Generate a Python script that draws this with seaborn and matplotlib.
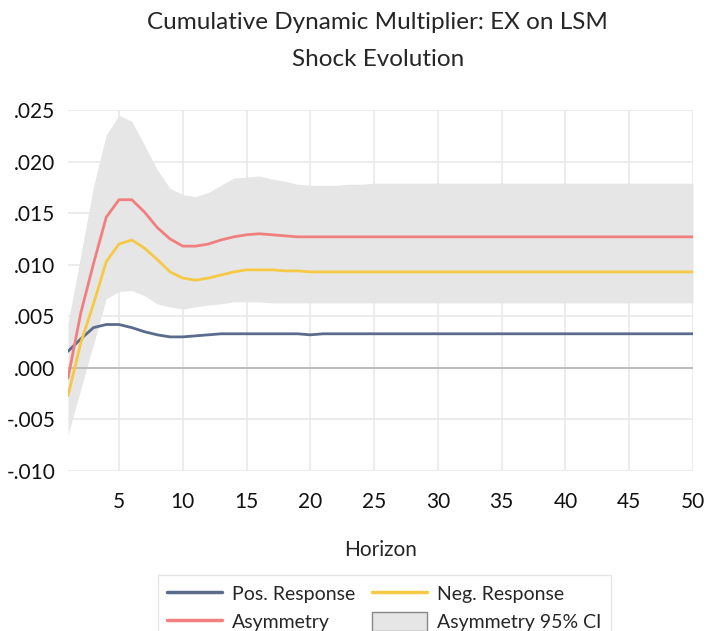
import numpy as np
import pandas as pd
import matplotlib
matplotlib.use("Agg")
import matplotlib.pyplot as plt
import seaborn as sns
from matplotlib.patches import Patch
from matplotlib.lines import Line2D

# данные (горизонт 1..50)
horizon = list(range(1, 51))

pos_response = [0.0016, 0.0028, 0.0039, 0.0042, 0.0042, 0.0039, 0.0035, 0.0032, 0.0030, 0.0030,
                0.0031, 0.0032, 0.0033, 0.0033, 0.0033, 0.0033, 0.0033, 0.0033, 0.0033, 0.0032] + [0.0033] * 30

neg_response = [-0.0027, 0.0024, 0.0062, 0.0103, 0.0120, 0.0124, 0.0116, 0.0105, 0.0093, 0.0087,
                0.0085, 0.0087, 0.0090, 0.0093, 0.0095, 0.0095, 0.0095, 0.0094, 0.0094, 0.0093] + [0.0093] * 30

asymmetry = [-0.0010, 0.0053, 0.0101, 0.0146, 0.0163, 0.0163, 0.0151, 0.0136, 0.0125, 0.0118,
             0.0118, 0.0120, 0.0124, 0.0127, 0.0129, 0.0130, 0.0129, 0.0128, 0.0127, 0.0127] + [0.0127] * 30

ci_upper = [0.0043, 0.0109, 0.0176, 0.0226, 0.0245, 0.0239, 0.0216, 0.0192, 0.0174, 0.0168,
            0.0166, 0.0170, 0.0177, 0.0184, 0.0185, 0.0186, 0.0183, 0.0181, 0.0178, 0.0177,
            0.0177, 0.0177, 0.0178, 0.0178] + [0.0179] * 26

ci_lower = [-0.0065, -0.0021, 0.0023, 0.0067, 0.0074, 0.0075, 0.0070, 0.0062, 0.0059, 0.0057,
            0.0059, 0.0061, 0.0062, 0.0064, 0.0064, 0.0064, 0.0063, 0.0063, 0.0063, 0.0063] + [0.0063] * 30

df = pd.DataFrame({"horizon": horizon, "pos": pos_response, "neg": neg_response,
                   "asym": asymmetry, "lo": ci_lower, "hi": ci_upper})

sns.set_style("whitegrid")
plt.rcParams['font.family'] = ['Lato', 'DejaVu Sans']

c_pos = "#5b6b8c"
c_neg = "#f6c945"
c_asym = "#f17f7f"
c_band = "#e6e6e6"

fig = plt.figure(figsize=(7.06, 6.31), dpi=100)
ax = fig.add_axes([0.0963, 0.2536, 0.8853, 0.5721])

ax.fill_between(df["horizon"], df["lo"], df["hi"], color=c_band, linewidth=0, zorder=1)
ax.axhline(0, color="#b4b4b4", linewidth=1.2, zorder=2)
sns.lineplot(data=df, x="horizon", y="pos", color=c_pos, linewidth=2, ax=ax, zorder=3)
sns.lineplot(data=df, x="horizon", y="neg", color=c_neg, linewidth=2, ax=ax, zorder=3)
sns.lineplot(data=df, x="horizon", y="asym", color=c_asym, linewidth=2, ax=ax, zorder=3)

ax.set_xlim(1, 50)
ax.set_ylim(-0.010, 0.025)
ax.set_xticks(range(5, 51, 5))
yt = [-0.010, -0.005, 0.0, 0.005, 0.010, 0.015, 0.020, 0.025]
ax.set_yticks(yt)
ax.set_yticklabels([("-" if v < 0 else "") + f"{abs(v):.3f}"[1:] for v in yt])
ax.tick_params(axis="both", length=0, labelsize=15, colors="#111111")
ax.tick_params(axis="x", pad=15)
ax.tick_params(axis="y", pad=9)
ax.grid(True, color="#e9e9e9", linewidth=1.2)
ax.set_axisbelow(True)
for s in ax.spines.values():
    s.set_visible(False)

ax.set_xlabel("Horizon", fontsize=15, labelpad=20)
ax.set_ylabel("")

fig.text(0.535, 0.965, "Cumulative Dynamic Multiplier: EX on LSM", ha="center", va="center", fontsize=17.5)
fig.text(0.535, 0.905, "Shock Evolution", ha="center", va="center", fontsize=17.5)

handles = [Line2D([], [], color=c_pos, linewidth=2.5),
           Line2D([], [], color=c_asym, linewidth=2.5),
           Line2D([], [], color=c_neg, linewidth=2.5),
           Patch(facecolor=c_band, edgecolor="#888888", linewidth=1)]
labels = ["Pos. Response", "Asymmetry", "Neg. Response", "Asymmetry 95% CI"]
leg = fig.legend(handles, labels, ncol=2, loc="upper left",
                 bbox_to_anchor=(148 / 706, 1 - 565 / 631), fontsize=14,
                 frameon=True, fancybox=False, edgecolor="#e0e0e0",
                 handlelength=2.8, handleheight=1.1, handletextpad=0.5,
                 columnspacing=0.9, labelspacing=0.45, borderpad=0.5)

fig.savefig("out.png", dpi=100)
